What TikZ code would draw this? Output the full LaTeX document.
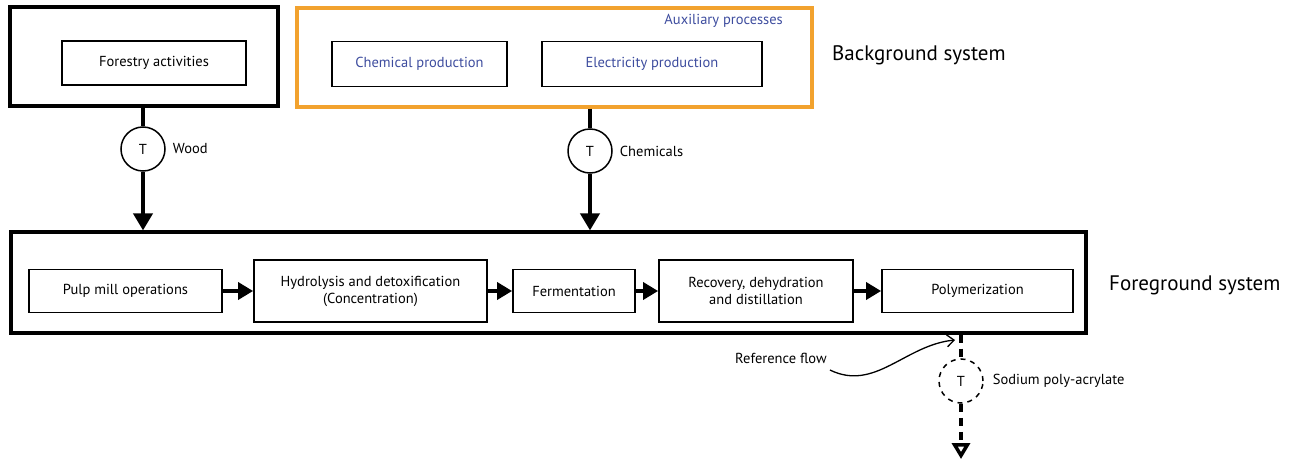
\documentclass[tikz,border=0pt]{standalone}
\usepackage{fontspec}
\setmainfont{PT Sans}
\usetikzlibrary{positioning,arrows.meta}
\definecolor{aux}{HTML}{F2A22E}
\definecolor{azul}{HTML}{3D4C9E}
\tikzset{sys/.style={draw,line width=3.2pt,inner sep=0},
         pr/.style={draw,line width=1.8pt,align=center,inner sep=0,font=\fontsize{14.5}{17}\selectfont},
         tn/.style={circle,draw,line width=1.5pt,minimum size=44pt,inner sep=0,font=\fontsize{14.5}{16}\selectfont},
         lb/.style={inner sep=1pt,anchor=west,font=\fontsize{14.5}{16}\selectfont},
         big/.style={inner sep=0,anchor=west,font=\fontsize{21}{24}\selectfont},
         fl/.style={line width=4pt,-{Triangle[length=17pt,width=19pt]}},
         st/.style={line width=3.5pt,-{Triangle[length=15pt,width=17pt]}},
         ds/.style={line width=4pt,dash pattern=on 8pt off 6pt}}

\begin{document}
\begin{tikzpicture}[x=1pt,y=-1pt]
  \useasboundingbox (0,0) rectangle (1302,463);
  \node[sys,minimum width=268pt,minimum height=99pt] (bg) at (144,56.5) {};
  \node[pr,minimum width=184pt,minimum height=44pt] (fa) at (154,63) {Forestry activities};
  \node[sys,draw=aux,minimum width=515pt,minimum height=99pt] (ax) at (554.5,57.5) {};
  \node[pr,text=azul,minimum width=175pt,minimum height=45pt] (cp) at (419.5,64) {Chemical production};
  \node[pr,text=azul,minimum width=220pt,minimum height=45pt] (ep) at (652,64) {Electricity production};
  \node[lb,anchor=east,text=azul] (axl) at (784,21) {Auxiliary processes};
  \node[big] (bgl) at (832,55) {Background system};
  \node[tn] (tw) at (143,149) {T};
  \node[tn] (tc) at (590,151) {T};
  \node[lb,right=6pt of tw] (wd) {Wood};
  \node[lb,right=6pt of tc] (ch) {Chemicals};
  \node[sys,minimum width=1075pt,minimum height=101pt] (fg) at (548.5,282.5) {};
  \node[big] (fgl) at (1109,285) {Foreground system};
  \node[pr,minimum width=193pt,minimum height=43pt] (p1) at (125.5,291) {Pulp mill operations};
  \node[pr,minimum width=233pt,minimum height=62pt] (p2) at (370.5,291) {Hydrolysis and detoxification\\(Concentration)};
  \node[pr,minimum width=122pt,minimum height=43pt] (p3) at (574,291) {Fermentation};
  \node[pr,minimum width=194pt,minimum height=62pt] (p4) at (756,291) {Recovery, dehydration\\and distillation};
  \node[pr,minimum width=191pt,minimum height=43pt] (p5) at (977.5,291) {Polymerization};
  \foreach \a/\b in {p1/p2,p2/p3,p3/p4,p4/p5} \draw[st] (\a) -- (\b);
  \draw[line width=4pt] (tw |- bg.south) -- (tw);
  \draw[fl] (tw) -- (tw |- fg.north);
  \draw[line width=4pt] (tc |- ax.south) -- (tc);
  \draw[fl] (tc) -- (tc |- fg.north);
  \node[tn,dash pattern=on 5pt off 5pt] (ts) at (961,381) {T};
  \node[lb,right=8pt of ts] (sp) {Sodium poly-acrylate};
  \coordinate (out) at (961,459);
  \draw[ds] (ts |- fg.south) -- (ts);
  \draw[ds,-{Triangle[open,length=16pt,width=18pt,line width=3.5pt]}] (ts) -- (out);
  \node[lb,anchor=center] (rf) at (781,358) {Reference flow};
  \coordinate (rt) at (955,340);
  \draw[line width=1.3pt,-{Straight Barb[length=7pt,width=12pt]}] ([shift={(2,12)}]rf.east)
       .. controls (875,392) and (905,345) .. (rt);
\end{tikzpicture}
\end{document}
